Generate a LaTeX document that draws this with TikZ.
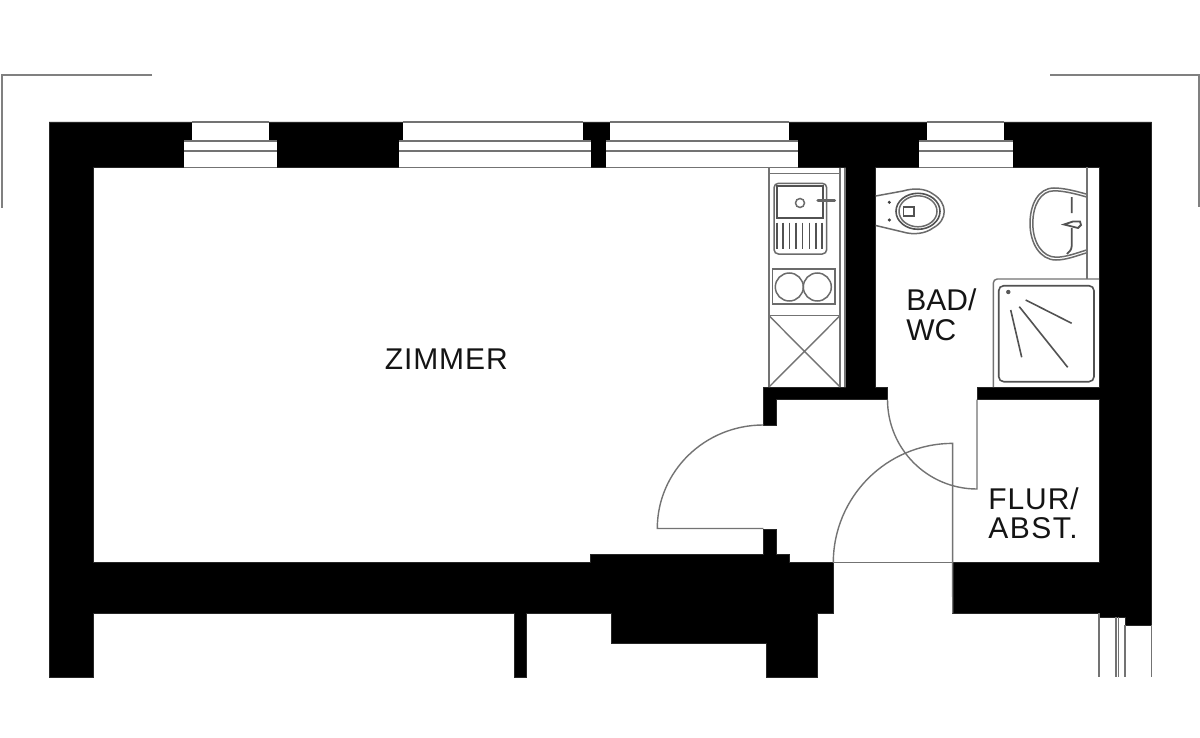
\documentclass[tikz,border=0pt]{standalone}
\usepackage{fontspec}
\setmainfont{Liberation Sans}
\tikzset{
  wallfill/.style={fill=black,draw=black!85,line width=0.35pt,line join=miter},
  thin line/.style={draw=black!55,line width=0.7pt},
  fixture/.style={draw=black!58,line width=0.75pt},
  fixture dark/.style={draw=black!68,line width=0.8pt},
  cornerline/.style={draw=black!50,line width=0.8pt},
  label text/.style={inner sep=0pt,anchor=base west,text=black!92,font=\fontsize{15}{15}\selectfont},
}
\begin{document}
\begin{tikzpicture}[x=0.5pt,y=-0.5pt]
\useasboundingbox (0,0) rectangle (1200,738);
\fill[white] (0,0) rectangle (1200,738);
% walls
\path[wallfill] (49,122) -- (1151.5,122) -- (1151.5,625) -- (1125,625) -- (1125,617) -- (1099,617) -- (1099,613.3)
 -- (952.7,613.3) -- (952.7,562.7) -- (1099,562.7) -- (1099,399.5) -- (977,399.5) -- (977,387) -- (1099,387)
 -- (1099,167.5) -- (875.7,167.5) -- (875.7,387) -- (887.5,387) -- (887.5,399.5) -- (776,399.5) -- (776,425)
 -- (763.3,425) -- (763.3,387) -- (845.7,387) -- (845.7,167.5) -- (93,167.5) -- (93,562.7) -- (590.8,562.7)
 -- (590.8,554.5) -- (763.3,554.5) -- (763.3,529) -- (776,529) -- (776,554.5) -- (789,554.5) -- (789,562.7)
 -- (833.3,562.7) -- (833.3,613.3) -- (817.7,613.3) -- (817.7,677) -- (766,677) -- (766,643) -- (611.6,643)
 -- (611.6,613.3) -- (526.6,613.3) -- (526.6,677) -- (514,677) -- (514,613.3) -- (93,613.3) -- (93,677) -- (49,677) -- cycle;
% windows: upper left, upper right, lower left, lower right
\foreach \ua/\ub/\la/\lb in {192/269.3/184/277, 403/582.7/398.5/590.7, 610/789.3/605.7/797.7, 926.7/1004/918.7/1012.7}{
  \fill[white] (\ua,122) rectangle (\ub,141.5);
  \fill[white] (\la,141) rectangle (\lb,167.5);
  \draw[thin line] (\ua,122) -- (\ub,122);
  \draw[thin line] (\la,141) -- (\lb,141);
  \draw[thin line] (\la,151) -- (\lb,151);
  \draw[thin line] (\la,167.5) -- (\lb,167.5);
}
% corner marks
\draw[cornerline] (152,75) -- (1.8,75) -- (1.8,208);
\draw[cornerline] (1050,75) -- (1199,75) -- (1199,207);
% doors
\draw[thin line] (763.3,425) arc[start angle=-90,end angle=-180,x radius=106,y radius=103.5] -- (763.3,528.5);
\draw[thin line] (833.3,562.7) arc[start angle=180,end angle=270,radius=119.3] -- (952.7,613.3);
\draw[thin line] (833.3,562.7) -- (952.7,562.7);
\draw[thin line] (887.5,399.5) arc[start angle=180,end angle=90,radius=89.5] -- (977,399.5);
% lower right stair lines
\draw[thin line] (1099,613.3) -- (1099,677);
\draw[thin line] (1116,617) -- (1116,677);
\draw[thin line] (1118.5,617) -- (1118.5,677);
\draw[thin line] (1125,625) -- (1125,677);
\draw[thin line] (1151.5,625) -- (1151.5,677);
% kitchen
\draw[thin line] (769,167.5) -- (769,387);
\draw[thin line] (769,173.3) -- (840,173.3) (840,168) -- (840,387);
\draw[thin line] (845,168) -- (845,387);
\draw[thin line] (769,315.7) -- (840,315.7);
\draw[thin line] (769,315.7) -- (840,387) (840,315.7) -- (769,387);
\draw[fixture,rounded corners=2.2pt] (774,183.3) rectangle (826.7,254);
\draw[fixture dark] (776.7,186) rectangle (822.7,218);
\draw[fixture] (800,203) circle[radius=4.5];
\draw[black!60,line width=1.6pt,line cap=round] (818,200.7) -- (834.5,200.7);
\foreach \x in {777,783,789.5,796,802.5,809.5,816,822}{
  \draw[fixture dark] (\x,222.7) -- (\x,249.3);
}
\draw[fixture] (772.3,269) rectangle (835,304);
\draw[fixture] (789.3,287) circle[radius=14];
\draw[fixture] (817.3,287) circle[radius=14];
% WC
\draw[fixture] (875.7,196) -- (903,191) .. controls (913,188) and (925,188) .. (933,194)
 .. controls (948,203) and (948,220) .. (933,228) .. controls (925,234) and (913,235) .. (903,232) -- (875.7,225.5);
\draw[fixture dark] (918,211.3) ellipse[x radius=22,y radius=18];
\draw[fixture] (918,211.3) ellipse[x radius=19,y radius=15.5];
\draw[fixture dark] (903.3,206.7) rectangle (914,216);
\fill[black!75] (889.3,202.3) circle[radius=1.7] (889.3,220) circle[radius=1.7];
% basin
\draw[thin line] (1087,167.5) -- (1087,279);
\foreach \d in {0,2.8}{
  \draw[fixture] (1086,194+\d) .. controls (1072,190+\d) and (1062,188+\d) .. (1054,188+\d)
   .. controls (1038+\d,188+\d) and (1030+\d,205) .. (1030+\d,223.5)
   .. controls (1030+\d,243) and (1040+\d,260-\d) .. (1056,260-\d)
   .. controls (1066,260-\d) and (1076,256-\d) .. (1086,253-\d);
}
\draw[fixture dark,line width=0.9pt] (1071.7,197) -- (1071.7,213) (1071.7,228) -- (1071.7,246) .. controls (1071.7,250) and (1069,252) .. (1067,254);
\draw[fixture dark,line width=0.9pt] (1064,224.5) -- (1073,221.5) -- (1080,221.5) -- (1081,225) -- (1078,228) -- (1072,226.5) -- cycle;
% shower
\draw[thin line,rounded corners=2pt] (993.3,387) -- (993.3,279) -- (1099,279);
\draw[fixture dark,rounded corners=2.5pt] (998.7,285.7) rectangle (1094,381.7);
\draw[fixture dark] (1025.7,300) -- (1071.7,323.3);
\draw[fixture dark] (1019.3,306.7) -- (1067.7,367.3);
\draw[fixture dark] (1010.7,310) -- (1021.7,357.3);
\fill[black!65] (1008.3,292) circle[radius=2.2];
% labels
\node[label text] (zimmer) at (384.5,369.5) {\addfontfeature{LetterSpace=3}ZIMMER};
\node[label text] (bad) at (906,310) {BAD/};
\node[label text] (wc) at (906,340) {WC};
\node[label text] (flur) at (988,509.5) {\addfontfeature{LetterSpace=3}FLUR/};
\node[label text] (abst) at (988,538.5) {\addfontfeature{LetterSpace=5}ABST.};
\end{tikzpicture}
\end{document}
